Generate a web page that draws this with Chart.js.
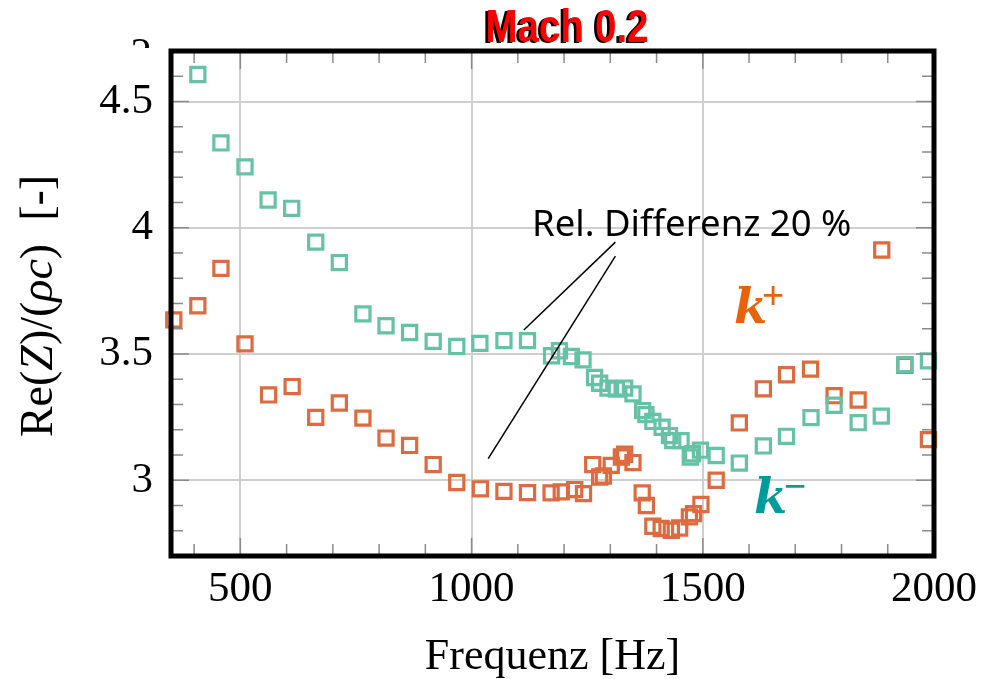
<!DOCTYPE html>
<html>
<head>
<meta charset="utf-8">
<script src="https://cdn.jsdelivr.net/npm/chart.js@4.4.1/dist/chart.umd.min.js"></script>
<style>
  html, body { margin: 0; padding: 0; background: #fff; }
  #wrap { width: 985px; height: 679px; position: relative; }
</style>
</head>
<body>
<div id="wrap"><canvas id="chart"></canvas></div>
<script>
// k+ (orange) and k- (green) measurements, Re(Z)/(rho c) over frequency
const freqPlus = [356, 408, 458, 510, 561, 612, 663, 714, 765, 815, 866, 917, 968, 1019, 1070, 1121, 1172, 1194, 1223, 1242,
  1262, 1277, 1285, 1302, 1324, 1331, 1349, 1369, 1378, 1392, 1410, 1432, 1450, 1471, 1480, 1496, 1529, 1579, 1631, 1681,
  1733, 1784, 1836, 1887, 1937, 1988]
const zPlus = [3.635, 3.691, 3.839, 3.540, 3.338, 3.371, 3.249, 3.306, 3.246, 3.167, 3.138, 3.062, 2.991, 2.966, 2.956, 2.951, 2.950, 2.954, 2.963, 2.947,
  3.062, 3.013, 3.017, 3.059, 3.092, 3.103, 3.070, 2.950, 2.900, 2.818, 2.809, 2.802, 2.811, 2.855, 2.868, 2.904, 3.000, 3.227, 3.362, 3.418,
  3.440, 3.335, 3.318, 3.912, 3.455, 3.161]

const freqMinus = [408, 458, 510, 560, 611, 663, 714, 765, 815, 866, 917, 968, 1018, 1070, 1121, 1173, 1190, 1216, 1241,
  1266, 1277, 1295, 1313, 1331, 1349, 1370, 1377, 1392, 1412, 1428, 1435, 1453, 1473, 1478, 1495, 1529, 1579, 1631, 1681,
  1734, 1784, 1836, 1886, 1937, 1988]
const zMinus = [4.607, 4.336, 4.241, 4.110, 4.077, 3.943, 3.862, 3.659, 3.612, 3.585, 3.550, 3.530, 3.542, 3.553, 3.553, 3.493, 3.513, 3.490, 3.477,
  3.407, 3.384, 3.365, 3.361, 3.365, 3.342, 3.276, 3.260, 3.233, 3.210, 3.177, 3.157, 3.157, 3.092, 3.105, 3.119, 3.098, 3.068, 3.136, 3.174,
  3.248, 3.297, 3.228, 3.254, 3.458, 3.473]

const xTickValues = [500, 1000, 1500, 2000]
const yTickValues = [3, 3.5, 4, 4.5]
const xMinorTicks = [400, 500, 600, 700, 800, 900, 1000, 1100, 1200, 1300, 1400, 1500, 1600, 1700, 1800, 1900]
const yMinorTicks = [2.8, 2.9, 3.0, 3.1, 3.2, 3.3, 3.4, 3.5, 3.6, 3.7, 3.8, 3.9, 4.0, 4.1, 4.2, 4.3, 4.4, 4.5, 4.6]

// annotation "Rel. Differenz 20 %" with two leader lines, in data units
const annotText = 'Rel. Differenz 20 %'
const annotAnchor = [1476, 3.968]
const annotLines = [
  [1311, 3.943, 1113, 3.595],
  [1311, 3.888, 1036, 3.086],
]

// y axis title pieces: [text, italic]
const yTitleParts = [['Re(', false], ['Z', true], [')/(', false], ['\u03c1c', true], [')  [-]', false]]

const GREEN = '#66c2a5'
const ORANGE = '#dd6b3f'
const SERIF = '"Liberation Serif", "DejaVu Serif", serif'

const toPoints = (xs, ys) => xs.map((x, i) => ({ x, y: ys[i] }))

function seg(ctx, x1, y1, x2, y2) {
  ctx.beginPath()
  ctx.moveTo(x1, y1)
  ctx.lineTo(x2, y2)
  ctx.stroke()
}

function drawYTitle(ctx, cx, cy) {
  const fontFor = it => (it ? 'italic ' : '') + '46px ' + SERIF
  let total = 0
  yTitleParts.forEach(([t, it]) => { ctx.font = fontFor(it); total += ctx.measureText(t).width })
  ctx.save()
  ctx.translate(cx, cy)
  ctx.rotate(-Math.PI / 2)
  ctx.fillStyle = '#000'
  ctx.textAlign = 'left'
  ctx.textBaseline = 'middle'
  let pos = -total / 2
  yTitleParts.forEach(([t, it]) => {
    ctx.font = fontFor(it)
    ctx.fillText(t, pos, 0)
    pos += ctx.measureText(t).width
  })
  ctx.restore()
}

const overlay = {
  id: 'overlay',
  afterDraw(chart) {
    const { ctx, chartArea: a, scales: { x, y } } = chart
    ctx.save()

    // inner tick marks on all four sides
    ctx.strokeStyle = '#8a8a8a'
    ctx.lineWidth = 1.5
    xMinorTicks.forEach(v => {
      const px = x.getPixelForValue(v)
      const len = xTickValues.includes(v) ? 18 : 12
      seg(ctx, px, a.bottom, px, a.bottom - len)
      seg(ctx, px, a.top, px, a.top + len)
    })
    yMinorTicks.forEach(v => {
      const py = y.getPixelForValue(v)
      const len = yTickValues.some(t => Math.abs(t - v) < 1e-6) ? 18 : 12
      seg(ctx, a.left, py, a.left + len, py)
      seg(ctx, a.right, py, a.right - len, py)
    })

    // heavy frame
    ctx.strokeStyle = '#000'
    ctx.lineWidth = 5
    ctx.strokeRect(a.left, a.top, a.right - a.left, a.bottom - a.top)

    // annotation
    ctx.lineWidth = 1.5
    annotLines.forEach(([x1, y1, x2, y2]) => {
      seg(ctx, x.getPixelForValue(x1), y.getPixelForValue(y1), x.getPixelForValue(x2), y.getPixelForValue(y2))
    })
    ctx.fillStyle = '#000'
    ctx.font = '36.5px "Noto Sans", "Open Sans", sans-serif'
    ctx.textAlign = 'center'
    ctx.textBaseline = 'alphabetic'
    ctx.fillText(annotText, x.getPixelForValue(annotAnchor[0]), y.getPixelForValue(annotAnchor[1]))

    // series labels
    ctx.textAlign = 'left'
    ctx.font = 'italic bold 48px "DejaVu Serif", "Liberation Serif", serif'
    ctx.fillStyle = '#e8620a'
    ctx.fillText('k', 734, 323)
    ctx.font = '38px "Liberation Sans", sans-serif'
    ctx.fillText('+', 762, 308)
    ctx.font = 'italic bold 48px "DejaVu Serif", "Liberation Serif", serif'
    ctx.fillStyle = '#009b9b'
    ctx.fillText('k', 754, 513)
    ctx.font = '38px "Liberation Sans", sans-serif'
    ctx.fillText('\u2212', 784, 499)

    // y axis title with italic symbols
    drawYTitle(ctx, 40, 306)

    // clipped stray glyph above the y labels
    ctx.save()
    ctx.beginPath()
    ctx.rect(100, 0, 70, 48)
    ctx.clip()
    ctx.fillStyle = '#000'
    ctx.font = '43px ' + SERIF
    ctx.textAlign = 'right'
    ctx.fillText('2', 152, 67)
    ctx.restore()

    // condensed title with dark shadow
    ctx.font = 'bold 46px "Liberation Sans Narrow", "Liberation Sans", sans-serif'
    ctx.textAlign = 'center'
    ctx.save()
    ctx.translate(567, 42)
    ctx.scale(0.84, 1)
    ctx.fillStyle = '#000'
    ctx.fillText('Mach 0.2', -3, 1)
    ctx.fillStyle = '#ff0000'
    ctx.fillText('Mach 0.2', 0, 0)
    ctx.restore()

    ctx.restore()
  },
}

new Chart(document.getElementById('chart'), {
  type: 'scatter',
  data: {
    datasets: [
      {
        label: 'k-',
        data: toPoints(freqMinus, zMinus),
        pointStyle: 'rect',
        pointRadius: 10,
        pointBorderWidth: 3.2,
        pointBorderColor: GREEN,
        pointBackgroundColor: 'rgba(0,0,0,0)',
        clip: false,
      },
      {
        label: 'k+',
        data: toPoints(freqPlus, zPlus),
        pointStyle: 'rect',
        pointRadius: 10,
        pointBorderWidth: 3.2,
        pointBorderColor: ORANGE,
        pointBackgroundColor: 'rgba(0,0,0,0)',
        clip: false,
      },
    ],
  },
  options: {
    responsive: true,
    maintainAspectRatio: false,
    animation: false,
    events: [],
    layout: { padding: { top: 51, right: 50, left: 0, bottom: 0 } },
    plugins: {
      legend: { display: false },
      tooltip: { enabled: false },
    },
    scales: {
      x: {
        type: 'linear',
        min: 350,
        max: 2000,
        afterBuildTicks: s => { s.ticks = xTickValues.map(v => ({ value: v })) },
        afterFit: s => { s.height = 123 },
        ticks: {
          color: '#000',
          padding: 8,
          maxRotation: 0,
          autoSkip: false,
          font: { family: SERIF, size: 43 },
          callback: v => String(v),
        },
        grid: { color: '#cfcfcf', lineWidth: 2, drawTicks: false },
        border: { display: false },
        title: {
          display: true,
          text: 'Frequenz [Hz]',
          color: '#000',
          font: { family: SERIF, size: 44, lineHeight: 1 },
          padding: { top: 0, bottom: 0 },
        },
      },
      y: {
        min: 2.7,
        max: 4.7,
        afterBuildTicks: s => { s.ticks = yTickValues.map(v => ({ value: v })) },
        afterFit: s => { s.width = 171 },
        ticks: {
          color: '#000',
          padding: 18,
          font: { family: SERIF, size: 43 },
          callback: v => String(v),
        },
        grid: { color: '#cfcfcf', lineWidth: 2, drawTicks: false },
        border: { display: false },
        title: { display: false },
      },
    },
  },
  plugins: [overlay],
})
</script>
</body>
</html>
